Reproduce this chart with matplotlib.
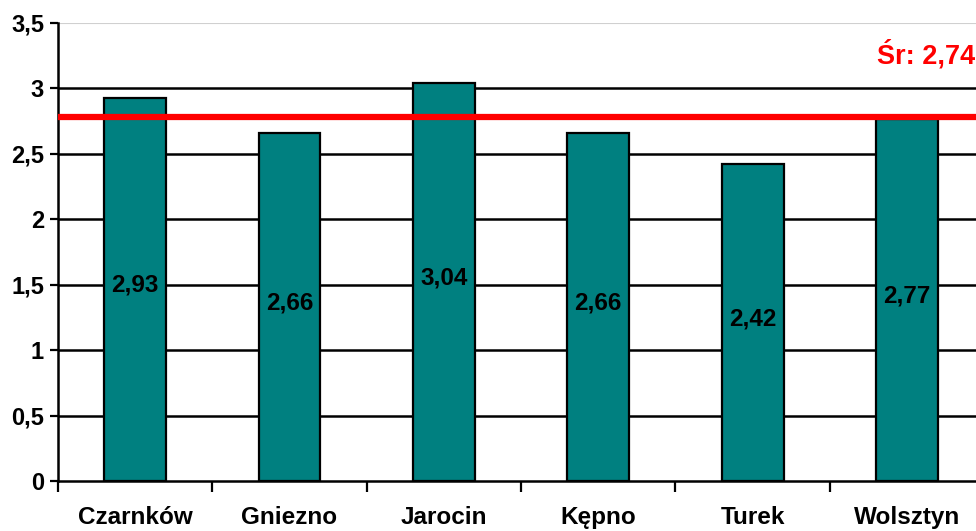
import numpy as np
import matplotlib.pyplot as plt
from matplotlib.ticker import FuncFormatter, FixedLocator

# data
categories = ["Czarnków", "Gniezno", "Jarocin", "Kępno", "Turek", "Wolsztyn"]
values = [2.93, 2.66, 3.04, 2.66, 2.42, 2.77]
mean_line = 2.78
mean_label = "Śr: 2,74"

plt.rcParams["font.family"] = ["Liberation Sans", "DejaVu Sans"]

fig = plt.figure(figsize=(9.76, 5.31), dpi=100)
ax = fig.add_axes([0.0594, 0.0942, 0.949, 0.8625])

x = np.arange(len(categories))
ax.bar(x, values, width=0.4, color="#008080", edgecolor="black", linewidth=1.6, zorder=3)

for xi, v in zip(x, values):
    ax.text(xi, v / 2 + 0.03, f"{v:.2f}".replace(".", ","), ha="center", va="center",
            fontsize=17.5, fontweight="bold", color="black", zorder=4)

# grid
for g in [0.5, 1, 1.5, 2, 2.5, 3]:
    ax.axhline(g, color="black", linewidth=1.8, zorder=1)
ax.axhline(3.5, color="#d0d0d0", linewidth=1.5, zorder=1)

ax.axhline(mean_line, color="#ff0000", linewidth=4.5, zorder=5)
ax.text(5.44, 3.26, mean_label, ha="right", va="center", fontsize=19.5,
        fontweight="bold", color="#ff0000", zorder=6)

ax.set_xlim(-0.5, 5.5)
ax.set_ylim(0, 3.5)
ax.set_yticks(np.arange(0, 3.51, 0.5))
ax.yaxis.set_major_formatter(FuncFormatter(lambda v, p: f"{v:g}".replace(".", ",")))

ax.xaxis.set_major_locator(FixedLocator(np.arange(-0.5, 5.6, 1)))
ax.xaxis.set_major_formatter(FuncFormatter(lambda v, p: ""))
ax.xaxis.set_minor_locator(FixedLocator(x))
ax.set_xticklabels(categories, minor=True)
ax.tick_params(axis="x", which="major", direction="out", length=8, width=1.6, color="black")
ax.tick_params(axis="x", which="minor", length=0, pad=18, labelsize=17.5)
ax.tick_params(axis="y", direction="out", length=6, width=1.6, labelsize=17, pad=4)
for lab in ax.get_xticklabels(minor=True) + ax.get_yticklabels():
    lab.set_fontweight("bold")

for side in ["top", "right"]:
    ax.spines[side].set_visible(False)
ax.spines["left"].set_linewidth(1.8)
ax.spines["bottom"].set_linewidth(1.8)
ax.spines["bottom"].set_zorder(6)

fig.savefig("out.png", dpi=100)
